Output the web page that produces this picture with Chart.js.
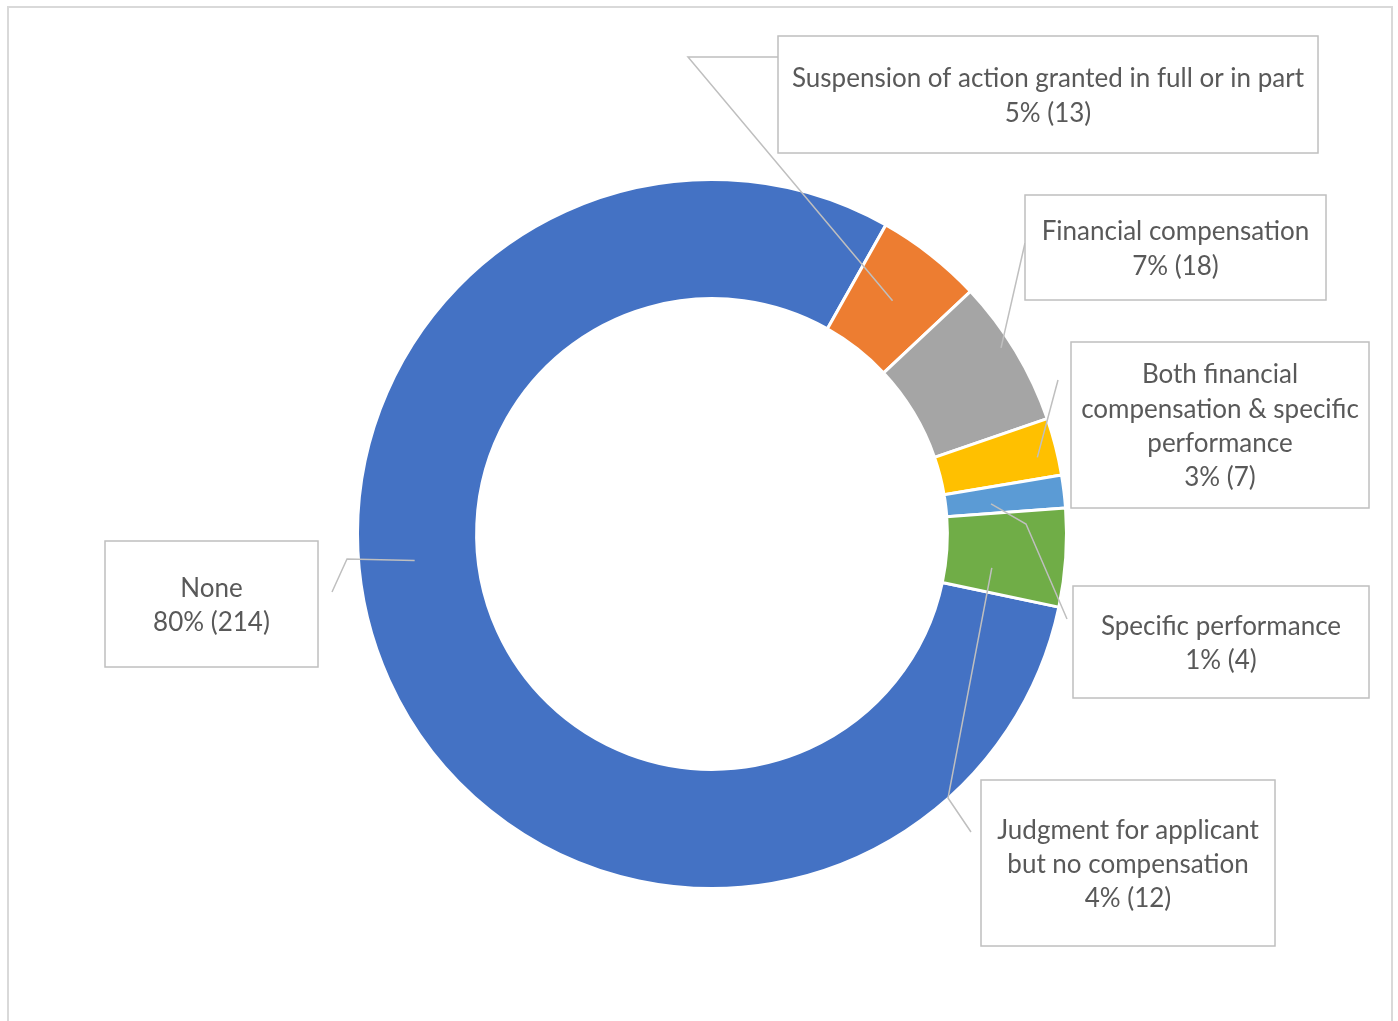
<!DOCTYPE html>
<html><head><meta charset="utf-8">
<script src="https://cdn.jsdelivr.net/npm/chart.js@4/dist/chart.umd.min.js"></script>
<style>html,body{margin:0;padding:0;background:#fff;overflow:hidden}canvas{display:block}</style>
</head><body>
<canvas id="c" width="1398" height="1021"></canvas>
<script>
// ---- data ----
const categories = ['None', 'Suspension of action granted in full or in part', 'Financial compensation', 'Both financial compensation & specific performance', 'Specific performance', 'Judgment for applicant but no compensation'];
const counts = [214, 13, 18, 7, 4, 12];
const colors = ['#4472C4', '#ED7D31', '#A5A5A5', '#FFC000', '#5B9BD5', '#70AD47'];
const labelLines = [['None'], ['Suspension of action granted in full or in part'], ['Financial compensation'], ['Both financial', 'compensation & specific', 'performance'], ['Specific performance'], ['Judgment for applicant', 'but no compensation']];

// ---- label layout (positions only) ----
const boxes = [
  {x:105, y:541, w:213, h:126, t:0.567, rf:0.53, path:[[347,559],[332,592]]},
  {x:778, y:36,  w:540, h:117, t:0.48,  rf:0.50, path:[[688,57],[778,57]]},
  {x:1025,y:195, w:301, h:105, t:0.43,  rf:0.91, path:[[1025,243]]},
  {x:1071,y:342, w:298, h:166, t:0.61,  rf:0.83, path:[[1058,380]]},
  {x:1073,y:586, w:296, h:112, t:0.64,  rf:0.38, path:[[1026,524],[1067,619]]},
  {x:981, y:780, w:294, h:166, t:0.69,  rf:0.39, path:[[948,798],[971,832]]}
];
const FONT = '26px Lato';
const LINE_H = 34.3;
const TEXT_DY = 1.5;

const total = counts.reduce((a,b)=>a+b,0);

const labelPlugin = {
  id: 'calloutLabels',
  afterDraw(chart) {
    const ctx = chart.ctx;
    const meta = chart.getDatasetMeta(0);
    ctx.save();
    // outer chart border
    ctx.strokeStyle = '#d9d9d9';
    ctx.lineWidth = 2;
    ctx.strokeRect(8, 7, 1384, 1040);
    // leader lines
    ctx.strokeStyle = '#bfbfbf';
    ctx.lineWidth = 1.5;
    meta.data.forEach((arc, i) => {
      const p = arc.getProps(['x','y','startAngle','endAngle','innerRadius','outerRadius'], true);
      const b = boxes[i];
      const a = p.startAngle + (p.endAngle - p.startAngle) * b.t;
      const r = p.innerRadius + (p.outerRadius - p.innerRadius) * b.rf;
      ctx.beginPath();
      ctx.moveTo(p.x + r * Math.cos(a), p.y + r * Math.sin(a));
      b.path.forEach(pt => ctx.lineTo(pt[0], pt[1]));
      ctx.stroke();
    });
    // boxes and text
    ctx.font = FONT;
    ctx.textAlign = 'center';
    ctx.textBaseline = 'middle';
    categories.forEach((c, i) => {
      const b = boxes[i];
      ctx.fillStyle = '#ffffff';
      ctx.fillRect(b.x, b.y, b.w, b.h);
      ctx.strokeStyle = '#bfbfbf';
      ctx.lineWidth = 1.5;
      ctx.strokeRect(b.x, b.y, b.w, b.h);
      const pct = Math.round(counts[i] / total * 100);
      const lines = labelLines[i].concat([pct + '% (' + counts[i] + ')']);
      const cx = b.x + b.w / 2;
      const cy = b.y + b.h / 2 + TEXT_DY;
      const y0 = cy - (lines.length - 1) * LINE_H / 2;
      ctx.fillStyle = '#595959';
      lines.forEach((ln, k) => ctx.fillText(ln, cx, y0 + k * LINE_H));
    });
    ctx.restore();
  }
};

new Chart(document.getElementById('c'), {
  type: 'doughnut',
  data: {
    labels: categories,
    datasets: [{
      data: counts,
      backgroundColor: colors,
      borderColor: '#ffffff',
      borderWidth: 3
    }]
  },
  options: {
    responsive: false,
    animation: false,
    rotation: 101.9,
    cutout: '66.4%',
    layout: { padding: { left: 356, top: 178, right: 330, bottom: 131 } },
    plugins: { legend: { display: false }, tooltip: { enabled: false } }
  },
  plugins: [labelPlugin]
});
</script>
</body></html>
